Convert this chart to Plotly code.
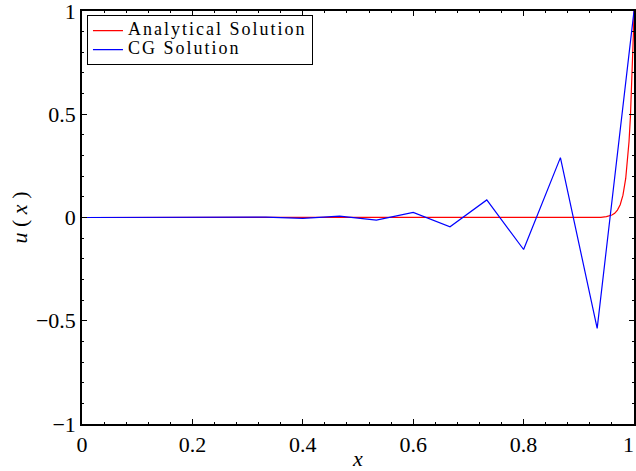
import plotly.graph_objects as go

# CG (finite element) solution: nodal values at x = k/15
cg_x = [0.0, 0.0667, 0.1333, 0.2, 0.2667, 0.3333, 0.4, 0.4667, 0.5333,
        0.6, 0.6667, 0.7333, 0.8, 0.8667, 0.9333, 1.0]
cg_u = [0.0, 0.0002, -0.0003, 0.0006, -0.0011, 0.002, -0.0038, 0.007, -0.013,
        0.025, -0.045, 0.085, -0.155, 0.29, -0.537, 1.0]

# Analytical solution (boundary layer near x = 1)
an_x = [0.0, 0.5, 0.9, 0.94, 0.95, 0.96, 0.965, 0.97, 0.975, 0.98, 0.985,
        0.988, 0.991, 0.9935, 0.996, 0.998, 0.999, 1.0]
an_u = [0.0, 0.0, 0.0, 0.001, 0.004, 0.012, 0.02, 0.036, 0.062, 0.108, 0.189,
        0.264, 0.368, 0.486, 0.641, 0.801, 0.895, 1.0]

series_names = ["Analytical Solution", "CG Solution"]

x_ticks = [0, 0.2, 0.4, 0.6, 0.8, 1]
x_ticktext = ["0", "0.2", "0.4", "0.6", "0.8", "1"]
y_ticks = [-1, -0.5, 0, 0.5, 1]
y_ticktext = ["\u22121", "\u22120.5", "0", "0.5", "1"]

FONT = "Liberation Serif"
LEG_STYLE = "font-size:18px;letter-spacing:2px"

fig = go.Figure()
fig.add_trace(go.Scatter(x=an_x, y=an_u, mode="lines",
                         name=f'<span style="{LEG_STYLE}">{series_names[0]}</span>',
                         line=dict(color="#ff0000", width=1.2)))
fig.add_trace(go.Scatter(x=cg_x, y=cg_u, mode="lines",
                         name=f'<span style="{LEG_STYLE}">{series_names[1]}</span>',
                         line=dict(color="#0000ff", width=1.2)))

axis_common = dict(
    showgrid=False, zeroline=False, showline=True, linecolor="black", linewidth=1.5,
    mirror="ticks", ticks="inside", ticklen=5, tickwidth=1, tickcolor="black",
    tickfont=dict(family=FONT, size=22, color="black"),
    ticklabeloverflow="allow", automargin=False,
)

# the last x tick label sits at the right edge of the page: draw it right-aligned
x_tick_labels_axis = x_ticktext[:-1] + [""]

fig.update_xaxes(range=[0, 1], tickmode="array", tickvals=x_ticks, ticktext=x_tick_labels_axis,
                 minor=dict(dtick=0.04, ticks="inside", ticklen=2.5, tickcolor="black"),
                 title=dict(text="<i>x</i>", font=dict(family=FONT, size=22, color="black"),
                            standoff=2),
                 **axis_common)
fig.update_yaxes(range=[-1, 1], tickmode="array", tickvals=y_ticks, ticktext=y_ticktext,
                 minor=dict(dtick=0.1, ticks="inside", ticklen=2.5, tickcolor="black"),
                 title=dict(text="<i>u</i> ( <i>x</i> )", font=dict(family=FONT, size=22, color="black"),
                            standoff=2),
                 **axis_common)

fig.add_annotation(x=x_ticks[-1], xref="x", y=0, yref="paper", text=x_ticktext[-1],
                   showarrow=False, xanchor="right", yanchor="middle", xshift=2, yshift=-20,
                   font=dict(family=FONT, size=22, color="black"))

fig.update_layout(
    width=636, height=471,
    margin=dict(l=82, r=2, t=11, b=47),
    plot_bgcolor="white", paper_bgcolor="white",
    font=dict(family=FONT, color="black"),
    legend=dict(x=0.009, y=0.99, xanchor="left", yanchor="top",
                bgcolor="white", bordercolor="black", borderwidth=1,
                font=dict(family=FONT, size=12, color="black"),
                tracegroupgap=0, itemwidth=30),
    showlegend=True,
)

fig.write_html("out.html")
